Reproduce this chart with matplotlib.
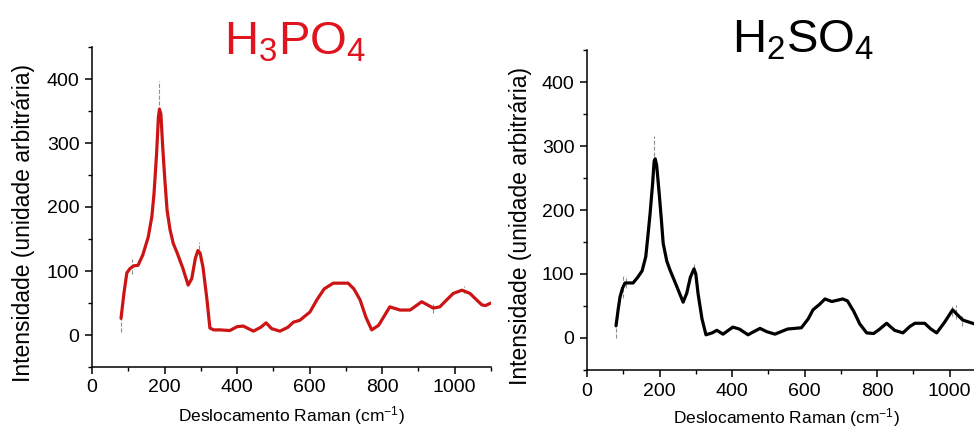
import matplotlib
matplotlib.use("Agg")
import matplotlib.pyplot as plt
from matplotlib.ticker import MultipleLocator, AutoMinorLocator

plt.rcParams['font.family'] = ['Liberation Sans', 'DejaVu Sans']
plt.rcParams['mathtext.default'] = 'regular'

# espectro H3PO4 (curva suavizada)
x_h3po4 = [80, 88, 96, 105, 115, 127, 140, 155, 165, 171, 178, 183, 186, 190,
           195, 201, 207, 215, 224, 235, 250, 265, 275, 285, 292, 298, 306, 317,
           325, 335, 353, 380, 400, 417, 445, 465, 480, 495, 518, 540, 555, 573,
           601, 620, 640, 665, 706, 722, 739, 755, 771, 790, 821, 849, 877, 909,
           941, 959, 978, 996, 1020, 1042, 1060, 1075, 1085, 1100]
y_h3po4 = [26, 65, 97, 104, 108, 109, 125, 153, 185, 221, 283, 340, 353, 345,
           293, 241, 195, 165, 143, 128, 105, 78, 88, 120, 132, 128, 106, 55,
           11, 8, 8, 7, 13, 14, 6, 12, 19, 10, 6, 12, 20, 23,
           36, 55, 72, 81, 81, 72, 55, 28, 8, 15, 44, 39, 39, 52,
           42, 44, 55, 65, 70, 65, 55, 47, 46, 50]

# espectro H2SO4 (curva suavizada)
x_h2so4 = [80, 86, 91, 98, 105, 115, 127, 140, 152, 162, 168, 174, 181, 185,
           188, 192, 199, 205, 210, 220, 229, 245, 265, 275, 285, 295, 300, 306,
           317, 328, 345, 358, 375, 402, 420, 444, 460, 477, 495, 518, 553, 591,
           610, 623, 642, 656, 675, 705, 718, 735, 752, 771, 790, 805, 826, 848,
           871, 890, 904, 931, 948, 964, 985, 1008, 1020, 1036, 1063, 1080, 1100]
y_h2so4 = [19, 45, 64, 78, 86, 86, 86, 95, 105, 127, 160, 195, 242, 276,
           280, 270, 226, 185, 148, 120, 106, 84, 56, 70, 95, 108, 100, 70,
           30, 5, 8, 12, 6, 17, 14, 5, 10, 15, 10, 6, 14, 16,
           30, 44, 53, 61, 57, 61, 58, 42, 22, 8, 7, 13, 23, 12,
           8, 18, 23, 23, 14, 8, 24, 44, 37, 28, 23, 20, 18]

# picos do sinal bruto (x, minimo, maximo)
spk_x_h3po4 = [80, 110, 186, 296, 940, 1025]
spk_lo_h3po4 = [5, 95, 350, 125, 35, 65]
spk_hi_h3po4 = [30, 118, 397, 145, 48, 77]

spk_x_h2so4 = [80, 100, 108, 186, 296, 1005, 1018, 1035]
spk_lo_h2so4 = [0, 62, 78, 275, 100, 35, 30, 18]
spk_hi_h2so4 = [20, 97, 97, 316, 117, 52, 52, 35]

W, H = 974, 428
fig = plt.figure(figsize=(W / 100, H / 100), dpi=100)


def painel(rect, x, y, sx, slo, shi, cor):
    ax = fig.add_axes(rect)
    ax.vlines(sx, slo, shi, colors='#909090', linewidth=0.8, linestyles='--', zorder=1)
    ax.plot(x, y, color=cor, linewidth=2.3, zorder=2,
            solid_joinstyle='round', solid_capstyle='round')
    ax.set_xlim(0, 1100)
    ax.set_ylim(-50, 450)
    ax.xaxis.set_major_locator(MultipleLocator(200))
    ax.xaxis.set_minor_locator(AutoMinorLocator(2))
    ax.yaxis.set_major_locator(MultipleLocator(100))
    ax.yaxis.set_minor_locator(AutoMinorLocator(2))
    ax.spines['top'].set_visible(False)
    ax.spines['right'].set_visible(False)
    for s in ['left', 'bottom']:
        ax.spines[s].set_linewidth(1.1)
    ax.tick_params(which='major', direction='out', length=5, width=1.1,
                   labelsize=14, pad=4)
    ax.tick_params(which='minor', direction='out', length=3, width=1.0)
    ax.set_xlabel('Deslocamento Raman (cm$^{-1}$)', fontsize=12.5)
    ax.set_ylabel('Intensidade (unidade arbitrária)', fontsize=16.5)
    return ax


ax1 = painel([92 / W, 1 - 367 / H, 399 / W, 320 / H], x_h3po4, y_h3po4,
             spk_x_h3po4, spk_lo_h3po4, spk_hi_h3po4, '#cc1414')
ax1.xaxis.set_label_coords(0.5, -0.115)
ax1.yaxis.set_label_coords(-0.143, 0.45)

ax2 = painel([587 / W, 1 - 370 / H, 399 / W, 320 / H], x_h2so4, y_h2so4,
             spk_x_h2so4, spk_lo_h2so4, spk_hi_h2so4, 'black')
ax2.xaxis.set_label_coords(0.5, -0.113)
ax2.yaxis.set_label_coords(-0.138, 0.45)

fig.text(295 / W, 1 - 55 / H, 'H$_3$PO$_4$', fontsize=34, color='#e0141e',
         ha='center', va='baseline')
fig.text(803 / W, 1 - 53 / H, 'H$_2$SO$_4$', fontsize=34, color='black',
         ha='center', va='baseline')

fig.savefig('out.png', dpi=100)
